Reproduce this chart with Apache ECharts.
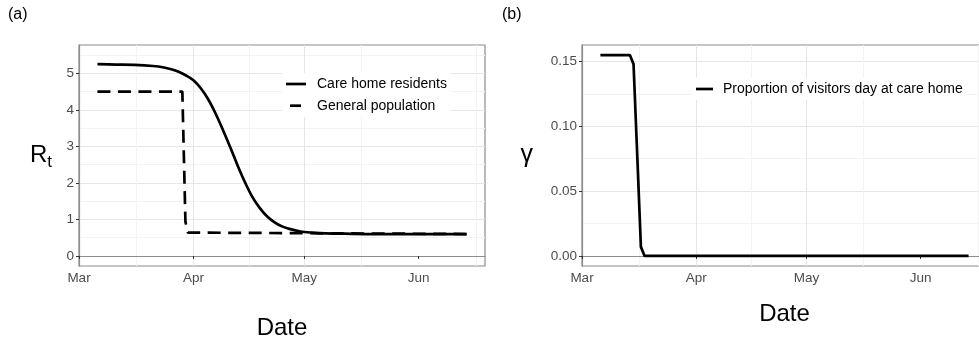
<!DOCTYPE html>
<html>
<head>
<meta charset="utf-8">
<script src="https://cdn.jsdelivr.net/npm/echarts@6/dist/echarts.min.js"></script>
<style>
  html, body { margin: 0; padding: 0; background: #fff; }
  #chart { width: 979px; height: 342px; }
</style>
</head>
<body>
<div id="chart"></div>
<script>
// axis breaks
var monthNames = ['Jan', 'Feb', 'Mar', 'Apr', 'May', 'Jun', 'Jul'];
var monthTicks = ['2020-03-01', '2020-04-01', '2020-05-01', '2020-06-01'];
var monthMinor = ['2020-03-16 12:00', '2020-04-16 00:00', '2020-05-16 12:00', '2020-06-16 12:00'];
var dateMin = '2020-03-01';
var dateMax = '2020-06-19';
var rtTicks = [0, 1, 2, 3, 4, 5];
var rtMinor = [0.5, 1.5, 2.5, 3.5, 4.5, 5.5];
var gammaTicks = [0, 0.05, 0.10, 0.15];
var gammaMinor = [0.025, 0.075, 0.125];

// (a) care home residents
var careDates = ['2020-03-06', '2020-03-11', '2020-03-16', '2020-03-21', '2020-03-24', '2020-03-26',
  '2020-03-28', '2020-03-30', '2020-04-01', '2020-04-03', '2020-04-05', '2020-04-07', '2020-04-09',
  '2020-04-11', '2020-04-13', '2020-04-15', '2020-04-17', '2020-04-19', '2020-04-21', '2020-04-23',
  '2020-04-25', '2020-04-27', '2020-04-30', '2020-05-03', '2020-05-07', '2020-05-12', '2020-05-20',
  '2020-06-14'];
var careRt = [5.25, 5.24, 5.23, 5.20, 5.16, 5.11,
  5.04, 4.94, 4.81, 4.59, 4.29, 3.90, 3.45,
  2.97, 2.47, 2.01, 1.61, 1.31, 1.08, 0.92,
  0.81, 0.74, 0.67, 0.64, 0.62, 0.61, 0.60,
  0.60];

// (a) general population
var genDates = ['2020-03-06', '2020-03-29 00:00', '2020-03-29 02:00', '2020-03-29 20:00',
  '2020-03-30 04:00', '2020-03-30 12:00', '2020-03-31', '2020-06-14'];
var genRt = [4.5, 4.5, 4.45, 0.95, 0.75, 0.64, 0.6, 0.6];

// (b) proportion of visitors day at care home
var visitDates = ['2020-03-06', '2020-03-14', '2020-03-15', '2020-03-16', '2020-03-17', '2020-03-18', '2020-06-14'];
var visitGamma = [0.155, 0.155, 0.148, 0.078, 0.007, 0, 0];

// 'YYYY-MM-DD HH:MM' -> UTC ms
function ts(s) {
  var p = s.split(/[- :]/).map(Number);
  return Date.UTC(p[0], p[1] - 1, p[2], p[3] || 0, p[4] || 0);
}
function pairs(xs, ys) {
  return xs.map(function (x, i) { return [ts(x), ys[i]]; });
}

var FONT = '"Liberation Sans", Arial, sans-serif';
var borderColor = '#8c8c8c';
var majorGrid = '#e6e6e6';
var minorGrid = '#f3f3f3';
var tickLabel = { color: '#4d4d4d', fontSize: 13.5, fontFamily: FONT };

// legend keys: a bar of line width inside an invisible itemWidth x 14 box
var keySolid = 'path://M0,0M20,14M0,5.65H20V8.35H0Z';
var keyDashed = 'path://M0,0M20,14M4,5.65H15V8.35H4Z';
var keySolidB = 'path://M0,0M17,14M0,5.65H17V8.35H0Z';

function monthAxis(grid, nameGap) {
  return {
    type: 'value', gridIndex: grid, min: ts(dateMin), max: ts(dateMax),
    name: 'Date', nameLocation: 'middle', nameGap: nameGap,
    nameTextStyle: { color: '#000', fontSize: 24, fontFamily: FONT, verticalAlign: 'top' },
    axisLine: { show: true, lineStyle: { color: borderColor, width: 1.2 } },
    axisTick: { show: true, length: 3, customValues: monthTicks.map(ts), lineStyle: { color: '#333', width: 1 } },
    axisLabel: Object.assign({ customValues: monthTicks.map(ts), margin: 5, hideOverlap: false,
      formatter: function (v) { return monthNames[new Date(v).getUTCMonth()]; } }, tickLabel),
    splitLine: { show: true, showMinLine: false, showMaxLine: false, lineStyle: { color: majorGrid, width: 1 } }
  };
}
function minorX(grid) {
  return {
    type: 'value', gridIndex: grid, min: ts(dateMin), max: ts(dateMax),
    axisLine: { show: false }, axisLabel: { show: false },
    axisTick: { show: false, customValues: monthMinor.map(ts) },
    splitLine: { show: true, lineStyle: { color: minorGrid, width: 1 } }
  };
}
function minorY(grid, min, max, vals) {
  return {
    type: 'value', gridIndex: grid, min: min, max: max,
    axisLine: { show: false }, axisLabel: { show: false },
    axisTick: { show: false, customValues: vals },
    splitLine: { show: true, lineStyle: { color: minorGrid, width: 1 } }
  };
}

var myChart = echarts.init(document.getElementById('chart'), null, { renderer: 'canvas' });

var option = {
  animation: false,
  backgroundColor: '#fff',
  textStyle: { fontFamily: FONT },
  title: [
    { text: '(a)', left: 8, top: 7, padding: 0, textStyle: { fontSize: 16, fontWeight: 'normal', color: '#000', fontFamily: FONT } },
    { text: '(b)', left: 502, top: 7, padding: 0, textStyle: { fontSize: 16, fontWeight: 'normal', color: '#000', fontFamily: FONT } }
  ],
  grid: [
    { left: 79, top: 45, right: 494, bottom: 76, show: true, borderColor: borderColor, borderWidth: 1.2,
      containLabel: false, outerBoundsMode: 'none' },
    { left: 582, top: 45, right: -8, bottom: 76, show: true, borderColor: borderColor, borderWidth: 1.2,
      containLabel: false, outerBoundsMode: 'none' }
  ],
  legend: [
    {
      orient: 'vertical', left: 282, top: 73, padding: 4, itemGap: 7.7,
      itemWidth: 20, itemHeight: 14, backgroundColor: '#fff',
      textStyle: { fontSize: 14, color: '#000', fontFamily: FONT, padding: [0, 0, 0, 6] },
      data: [
        { name: 'Care home residents', icon: keySolid },
        { name: 'General population', icon: keyDashed }
      ]
    },
    {
      orient: 'vertical', left: 692, top: 78, padding: 4,
      itemWidth: 17, itemHeight: 14, backgroundColor: '#fff',
      textStyle: { fontSize: 14, color: '#000', fontFamily: FONT, padding: [0, 0, 0, 5] },
      data: [{ name: 'Proportion of visitors day at care home', icon: keySolidB }]
    }
  ],
  xAxis: [monthAxis(0, 50), monthAxis(1, 36), minorX(0), minorX(1)],
  yAxis: [
    {
      type: 'value', gridIndex: 0, min: -0.275, max: 5.775,
      name: '{r|R}{t|t}', nameLocation: 'middle', nameRotate: 0, nameGap: 27,
      nameTextStyle: { color: '#000', lineHeight: 30, rich: {
        r: { fontSize: 24, fontFamily: FONT, color: '#000' },
        t: { fontSize: 17, fontFamily: FONT, color: '#000', verticalAlign: 'bottom' } } },
      axisLine: { show: true, lineStyle: { color: borderColor, width: 1.2 } },
      axisTick: { show: true, length: 3, customValues: rtTicks, lineStyle: { color: '#333', width: 1 } },
      axisLabel: Object.assign({ customValues: rtTicks, margin: 5 }, tickLabel),
      splitLine: { show: true, lineStyle: { color: majorGrid, width: 1 } }
    },
    {
      type: 'value', gridIndex: 1, min: -0.00775, max: 0.16275,
      name: 'γ', nameLocation: 'middle', nameRotate: 0, nameGap: 49,
      nameTextStyle: { color: '#000', fontSize: 25, fontFamily: FONT },
      axisLine: { show: true, lineStyle: { color: borderColor, width: 1.2 } },
      axisTick: { show: true, length: 3, customValues: gammaTicks, lineStyle: { color: '#333', width: 1 } },
      axisLabel: Object.assign({ customValues: gammaTicks, margin: 5,
        formatter: function (v) { return v.toFixed(2); } }, tickLabel),
      splitLine: { show: true, lineStyle: { color: majorGrid, width: 1 } }
    },
    minorY(0, -0.275, 5.775, rtMinor),
    minorY(1, -0.00775, 0.16275, gammaMinor)
  ],
  series: [
    {
      name: 'Care home residents', type: 'line', xAxisIndex: 0, yAxisIndex: 0,
      data: pairs(careDates, careRt), smooth: 0.35, symbol: 'none', z: 3,
      lineStyle: { color: '#000', width: 2.7 }, itemStyle: { color: '#000' }
    },
    {
      name: 'General population', type: 'line', xAxisIndex: 0, yAxisIndex: 0,
      data: pairs(genDates, genRt), symbol: 'none', z: 2,
      lineStyle: { color: '#000', width: 2.7, type: [13, 7.5] }, itemStyle: { color: '#000' }
    },
    {
      name: 'Proportion of visitors day at care home', type: 'line', xAxisIndex: 1, yAxisIndex: 1,
      data: pairs(visitDates, visitGamma), symbol: 'none', z: 3,
      lineStyle: { color: '#000', width: 2.7 }, itemStyle: { color: '#000' }
    }
  ]
};
myChart.setOption(option);
</script>
</body>
</html>
